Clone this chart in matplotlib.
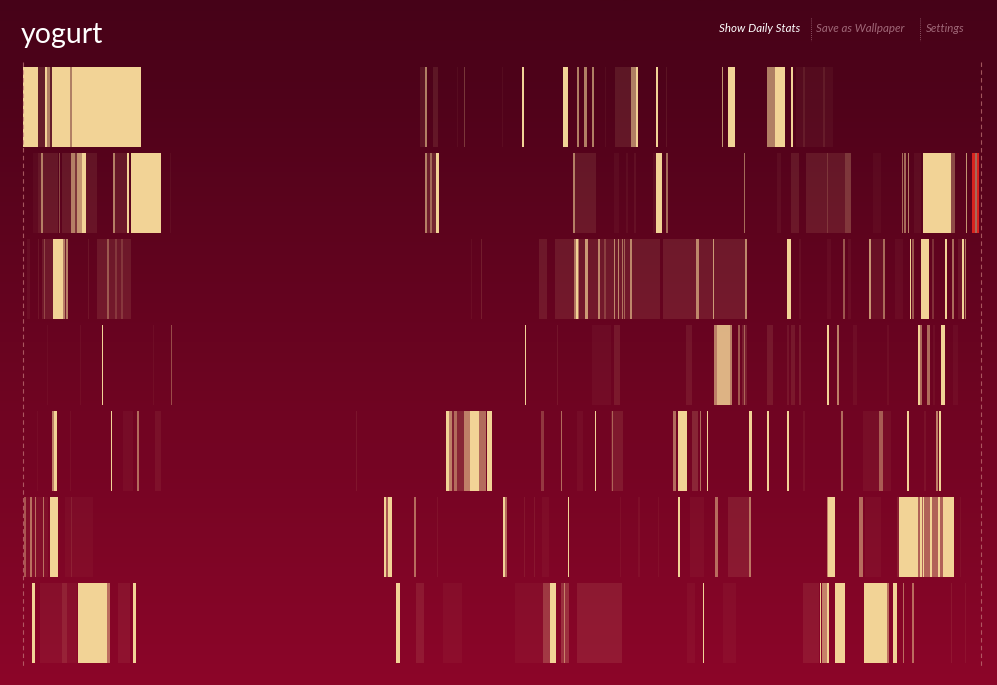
import numpy as np
import matplotlib.pyplot as plt
from matplotlib.colors import LinearSegmentedColormap, to_rgba

# activity spans per day: (start minute, end minute, intensity); 'r' marks alert spans
day1 = [(0, 22, 1), (13, 15, 0.6), (22, 33, 0.15), (33, 36, 1), (36, 40, 0.6), (40, 44, 0.15),
        (44, 70, 1), (52, 54, 0.6), (65, 67, 0.6), (70, 74, 0.6), (74, 178, 1),
        (596, 604, 0.1), (604, 608, 0.6), (616, 624, 0.12), (652, 654, 0.06), (663, 665, 0.3),
        (720, 722, 0.06), (750, 753, 1), (812, 819, 1), (832, 836, 0.6), (843, 848, 0.6),
        (855, 858, 0.6), (875, 876, 0.06), (890, 914, 0.12), (914, 918, 0.6), (918, 921, 0.6),
        (922, 925, 1), (952, 955, 1), (966, 968, 0.1), (1050, 1052, 0.7), (1059, 1070, 1),
        (1118, 1131, 0.6), (1131, 1146, 1), (1136, 1137, 0.5), (1141, 1142, 0.5), (1155, 1158, 1),
        (1162, 1218, 0.05), (1173, 1175, 0.1), (1203, 1205, 0.1)]
day2 = [(15, 22, 0.04), (22, 27, 0.12), (27, 30, 0.6), (30, 52, 0.12), (54, 56, 0.35),
        (58, 72, 0.12), (72, 78, 0.6), (78, 81, 0.3), (81, 88, 0.7), (88, 95, 1), (95, 111, 0.1),
        (136, 138, 0.6), (138, 156, 0.12), (156, 160, 1), (163, 207, 1), (170, 172, 0.5),
        (221, 222, 0.06), (604, 608, 0.6), (608, 612, 0.15), (612, 615, 0.5), (615, 621, 0.2),
        (621, 626, 1), (826, 830, 0.6), (830, 861, 0.12), (888, 896, 0.05), (907, 909, 0.06),
        (918, 921, 0.08), (947, 951, 0.06), (951, 960, 1), (967, 969, 0.5), (1084, 1086, 0.5),
        (1134, 1140, 0.06), (1155, 1166, 0.12), (1177, 1236, 0.12), (1208, 1210, 0.2),
        (1236, 1244, 0.3), (1278, 1290, 0.04), (1321, 1323, 0.5), (1325, 1327, 0.5),
        (1330, 1332, 0.6), (1340, 1350, 0.06), (1353, 1395, 1), (1362, 1364, 0.6),
        (1371, 1373, 0.6), (1377, 1379, 0.6), (1383, 1385, 0.6), (1389, 1391, 0.6),
        (1395, 1401, 0.35), (1417, 1419, 0.7), (1426, 1431, 'r'), (1431, 1434, 0.5), (1434, 1437, 'r')]
day3 = [(6, 10, 0.06), (22, 24, 0.1), (29, 45, 0.12), (31, 33, 0.3), (45, 60, 1), (60, 63, 0.6),
        (63, 64, 0.15), (64, 67, 0.6), (97, 99, 0.1), (111, 163, 0.12), (127, 129, 0.35),
        (139, 141, 0.2), (148, 150, 0.2), (673, 675, 0.06), (688, 690, 0.15), (775, 787, 0.12),
        (799, 957, 0.12), (828, 831, 0.5), (831, 834, 1), (834, 836, 0.5), (845, 849, 0.7),
        (865, 867, 0.6), (874, 877, 0.25), (888, 890, 0.6), (894, 896, 0.6), (900, 902, 0.5),
        (904, 905, 0.4), (913, 915, 0.6), (962, 1088, 0.13), (1011, 1016, 0.6), (1037, 1039, 0.7),
        (1085, 1088, 0.6), (1149, 1155, 1), (1166, 1170, 0.06), (1208, 1215, 0.05), (1233, 1235, 0.4),
        (1240, 1245, 0.06), (1272, 1275, 0.7), (1275, 1293, 0.08), (1293, 1296, 0.5),
        (1310, 1323, 0.05), (1333, 1335, 1), (1337, 1339, 0.4), (1350, 1362, 1), (1366, 1370, 0.25),
        (1386, 1389, 1), (1396, 1400, 0.5), (1406, 1418, 0.1), (1412, 1415, 1), (1416, 1418, 0.5)]
day4 = [(36, 38, 0.05), (85, 87, 0.06), (119, 121, 1), (195, 197, 0.06), (222, 224, 0.35),
        (754, 756, 1), (802, 804, 0.1), (855, 884, 0.05), (888, 897, 0.12), (996, 1005, 0.1),
        (1039, 1043, 0.6), (1043, 1062, 0.85), (1062, 1065, 0.6), (1074, 1077, 0.4),
        (1080, 1088, 0.15), (1084, 1086, 0.4), (1119, 1128, 0.12), (1149, 1152, 0.1),
        (1155, 1161, 0.12), (1166, 1170, 0.15), (1208, 1212, 1), (1224, 1226, 0.6),
        (1248, 1254, 0.06), (1299, 1301, 0.06), (1346, 1349, 1), (1349, 1352, 0.5),
        (1359, 1364, 0.5), (1368, 1371, 0.06), (1380, 1386, 1), (1398, 1406, 0.05)]
day5 = [(21, 23, 0.05), (44, 46, 0.6), (46, 51, 1), (70, 72, 0.06), (132, 134, 1),
        (151, 165, 0.05), (172, 174, 0.5), (198, 207, 0.08), (500, 502, 0.1), (636, 641, 1),
        (641, 645, 0.6), (645, 648, 0.15), (648, 653, 0.5), (653, 663, 0.2), (663, 672, 0.6),
        (672, 686, 1), (686, 696, 0.5), (697, 705, 1), (779, 783, 0.3), (808, 810, 0.5),
        (833, 842, 0.05), (860, 862, 1), (884, 902, 0.12), (885, 887, 0.4), (977, 981, 0.5),
        (984, 998, 1), (990, 992, 0.6), (1005, 1014, 0.2), (1017, 1019, 0.5), (1028, 1030, 1),
        (1091, 1096, 1), (1119, 1122, 1), (1148, 1152, 1), (1173, 1175, 0.08), (1230, 1232, 0.5),
        (1262, 1304, 0.06), (1286, 1292, 0.4), (1329, 1332, 1), (1355, 1357, 0.08),
        (1373, 1375, 0.6), (1377, 1380, 1)]
day6 = [(4, 38, 0.06), (2, 4, 0.4), (11, 13, 0.5), (18, 20, 0.5), (30, 32, 0.5), (41, 53, 1),
        (63, 105, 0.04), (72, 74, 0.12), (542, 545, 1), (545, 548, 0.4), (548, 554, 1),
        (588, 591, 0.5), (622, 624, 0.08), (722, 724, 1), (725, 728, 0.5), (753, 755, 0.1),
        (768, 770, 0.1), (780, 791, 0.05), (819, 821, 1), (897, 899, 0.06), (925, 927, 0.06),
        (954, 956, 0.06), (984, 987, 1), (1003, 1023, 0.05), (1040, 1044, 0.5), (1060, 1094, 0.12),
        (1092, 1094, 0.5), (1208, 1210, 0.6), (1210, 1220, 1), (1257, 1262, 0.5), (1265, 1290, 0.05),
        (1313, 1317, 0.15), (1317, 1346, 1), (1346, 1383, 0.45), (1349, 1351, 1), (1353, 1355, 1),
        (1363, 1366, 1), (1375, 1378, 1), (1383, 1400, 1), (1408, 1410, 0.06)]
day7 = [(14, 18, 1), (26, 81, 0.06), (59, 66, 0.12), (83, 86, 1), (86, 126, 1), (107, 109, 0.6),
        (126, 131, 0.5), (143, 161, 0.08), (165, 170, 1), (561, 567, 1), (590, 603, 0.12),
        (632, 660, 0.05), (740, 782, 0.05), (782, 792, 0.3), (792, 801, 1), (809, 821, 0.25),
        (813, 815, 0.5), (833, 900, 0.12), (998, 1010, 0.05), (1022, 1024, 1), (1052, 1071, 0.05),
        (1173, 1196, 0.1), (1198, 1200, 1), (1201, 1208, 0.6), (1208, 1211, 1), (1220, 1236, 1),
        (1223, 1225, 0.6), (1264, 1299, 1), (1299, 1302, 0.5), (1308, 1314, 1), (1323, 1325, 0.5),
        (1337, 1339, 0.5), (1395, 1397, 0.1), (1416, 1418, 0.08)]
days = [day1, day2, day3, day4, day5, day6, day7]

menu_items = ['Show Daily Stats', 'Save as Wallpaper', 'Settings']

fig = plt.figure(figsize=(9.97, 6.85), dpi=100)

# background gradient
bg = fig.add_axes([0, 0, 1, 1])
bg.set_axis_off()
grad = LinearSegmentedColormap.from_list('bg', ['#460218', '#8c0629'])
bg.imshow(np.linspace(0, 1, 256).reshape(-1, 1), aspect='auto', cmap=grad,
          extent=[0, 1, 0, 1], origin='upper')
bg.set_xlim(0, 1)
bg.set_ylim(0, 1)

bar_col = np.array(to_rgba('#f2d396'))
red_col = '#d8231f'
row_h = 80 / 86

ax = fig.add_axes([23 / 997, 22 / 685, 958 / 997, 596 / 685])
ax.patch.set_alpha(0)
ax.set_xlim(0, 1440)
ax.set_ylim(6 + row_h, 0)
ax.set_axis_off()

for i, spans in enumerate(days):
    for start, end, level in spans:
        if level == 'r':
            c = red_col
        else:
            # faint activity is a touch dimmer than its raw value
            a = level if level > 0.3 else level * 0.85
            c = (bar_col[0], bar_col[1], bar_col[2], a)
        ax.bar(x=start, height=row_h, width=end - start, bottom=i, align='edge',
               color=c, linewidth=0)

# day boundary markers
for xm in [0, 1440]:
    ax.plot([xm, xm], [-0.06, 6 + row_h + 0.03], color='#c57a7a', alpha=0.7, lw=0.8,
            ls=(0, (4, 3)), clip_on=False)

fig.text(21 / 997, 1 - 35 / 685, 'yogurt', color='white', fontsize=20.5,
         family='Lato', va='center', ha='left')

xs = [719, 816, 926]
cols = ['white', '#a06878', '#a06878']
for x, label, c in zip(xs, menu_items, cols):
    fig.text(x / 997, 1 - 28 / 685, label, color=c, fontsize=8.3, style='italic',
             family='Lato', va='center', ha='left')
for x in [811, 920]:
    fig.add_artist(plt.Line2D([x / 997, x / 997], [1 - 18 / 685, 1 - 41 / 685],
                              color='#a06878', lw=0.6, ls=(0, (1, 1.5))))

fig.savefig('out.png', dpi=100)
